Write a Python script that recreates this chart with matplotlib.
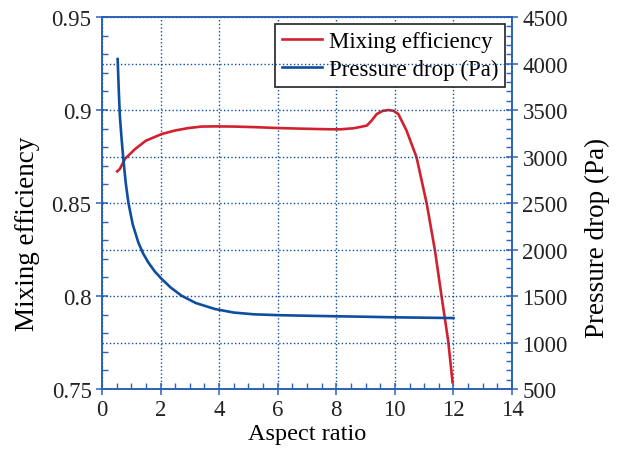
import matplotlib
matplotlib.use('Agg')
import matplotlib.pyplot as plt
from matplotlib.ticker import MultipleLocator

plt.rcParams['font.family'] = ['Liberation Serif', 'DejaVu Serif']

# Mixing efficiency (left axis)
ar_mix = [0.52, 0.61, 0.785, 1.13, 1.5, 2.04, 2.5, 2.95, 3.4, 3.86, 4.5, 5.2, 6.02, 7.0, 7.6, 8.13,
          8.6, 9.04, 9.2, 9.38, 9.58, 9.78, 9.95, 10.12, 10.4, 10.74, 11.09, 11.37, 11.6, 11.82, 11.97]
mix_eff = [0.867, 0.8683, 0.8737, 0.879, 0.8835, 0.8871, 0.889, 0.8903, 0.8911, 0.8912, 0.8911, 0.8908,
           0.8903, 0.8899, 0.8897, 0.8896, 0.8902, 0.8916, 0.8942, 0.8978, 0.8995, 0.9, 0.8996, 0.8978,
           0.8889, 0.8746, 0.8495, 0.8244, 0.7993, 0.776, 0.7536]

# Pressure drop (right axis)
ar_dp = [0.536, 0.57, 0.61, 0.67, 0.73, 0.81, 0.9, 1.05, 1.24, 1.4, 1.58, 1.8, 2.04, 2.35, 2.72, 3.2,
         3.86, 4.5, 5.2, 6.02, 7.0, 8.01, 9.0, 10.0, 11.0, 12.0]
dp = [4048, 3740, 3439, 3190, 2973, 2720, 2507, 2270, 2077, 1960, 1862, 1765, 1683, 1590, 1503, 1425,
      1360, 1322, 1303, 1294, 1288, 1282, 1277, 1271, 1267, 1263]

red = '#d0222e'
blue = '#0d4ea0'
spine_blue = '#2a62b8'

fig = plt.figure(figsize=(6.18, 4.56), dpi=100)
ax = fig.add_axes([0.165, 0.1447, 0.6635, 0.8158])
ax2 = ax.twinx()

l1, = ax.plot(ar_mix, mix_eff, color=red, lw=1.9, label='Mixing efficiency', solid_joinstyle='round')
l2, = ax2.plot(ar_dp, dp, color=blue, lw=1.9, label='Pressure drop (Pa)', solid_joinstyle='round')

ax.set_xlim(0, 14)
ax.set_ylim(0.75, 0.95)
ax2.set_ylim(500, 4500)

ax.xaxis.set_major_locator(MultipleLocator(2))
ax.xaxis.set_minor_locator(MultipleLocator(0.5))
ax.yaxis.set_minor_locator(MultipleLocator(0.01))
ax2.yaxis.set_major_locator(MultipleLocator(500))
ax2.yaxis.set_minor_locator(MultipleLocator(100))
ax.set_yticks([0.75, 0.8, 0.85, 0.9, 0.95])
ax.set_yticklabels(['0.75', '0.8', '0.85', '0.9', '0.95'])

# grid: vertical from x axis, horizontal from right axis
ax.grid(True, axis='x', which='major', color=blue, ls=':', lw=1.0)
ax2.grid(True, axis='y', which='major', color=blue, ls=':', lw=1.0)

for a in (ax, ax2):
    for s in a.spines.values():
        s.set_color(spine_blue)
        s.set_linewidth(1.2)
    a.tick_params(which='major', direction='inout', length=8, width=1.1, color=spine_blue,
                  labelsize=16.5, labelcolor='#222222')
    a.tick_params(which='minor', direction='in', length=4, width=1.0, color=spine_blue)

ax.set_xlabel('Aspect ratio', fontsize=17.5, labelpad=2)
ax.set_ylabel('Mixing efficiency', fontsize=19.5)
ax2.set_ylabel('Pressure drop (Pa)', fontsize=19.5)
ax.yaxis.set_label_coords(-0.152, 0.42)
ax2.yaxis.set_label_coords(1.178, 0.41)

leg = ax.legend(handles=[l1, l2], loc='upper right', fontsize=16.5, fancybox=False,
                framealpha=1, edgecolor='#222222', borderaxespad=0.3, handlelength=1.75,
                handletextpad=0.3, borderpad=0.3, labelspacing=0.3)
leg.get_frame().set_linewidth(1.2)

plt.savefig('out.png', dpi=100)
